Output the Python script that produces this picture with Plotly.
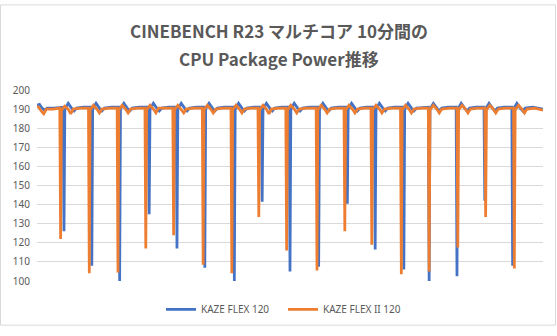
import plotly.graph_objects as go

# ---- data (seconds, W) ----
flex_t = [0, 3, 6, 9, 12, 20, 31,
          32, 33, 37, 41, 44, 47, 55, 64,
          65, 66, 70, 74, 77, 80, 88, 97,
          98, 99, 103, 107, 110, 113, 121, 132,
          133, 134, 138, 142, 145, 148, 156, 165,
          166, 167, 171, 175, 178, 181, 189, 198,
          199, 200, 204, 208, 211, 214, 222, 233,
          234, 235, 239, 243, 246, 249, 257, 266,
          267, 268, 272, 276, 279, 282, 290, 299,
          300, 301, 305, 309, 312, 315, 323, 333,
          334, 335, 339, 343, 346, 349, 357, 367,
          368, 369, 373, 377, 380, 383, 391, 400,
          401, 402, 406, 410, 413, 416, 424, 434,
          435, 436, 440, 444, 447, 450, 458, 464,
          465, 466, 470, 474, 477, 480, 488, 497,
          498, 499, 503, 507, 510, 513, 521, 530,
          531, 532, 536, 540, 543, 546, 554, 563,
          564, 565, 569, 573, 576, 579, 588, 600]
flex_w = [192, 192.5, 190.5, 189.5, 190.5, 190.5, 191,
          126, 190, 193, 190.5, 189, 190.5, 191, 191,
          108, 190, 193, 190.5, 189, 190.5, 191, 191,
          100, 190, 193, 190.5, 189, 190.5, 191, 191,
          135, 190, 193, 190.5, 189, 190.5, 191, 191,
          117, 190, 193, 190.5, 189, 190.5, 191, 191,
          107, 190, 193, 190.5, 189, 190.5, 191, 191,
          100, 190, 193, 190.5, 189, 190.5, 191, 191,
          141.5, 190, 193, 190.5, 189, 190.5, 191, 191,
          105, 190, 193, 190.5, 189, 190.5, 191, 191,
          107.5, 190, 193, 190.5, 189, 190.5, 191, 191,
          140.5, 190, 193, 190.5, 189, 190.5, 191, 191,
          116.5, 190, 193, 190.5, 189, 190.5, 191, 191,
          106, 190, 193, 190.5, 189, 190.5, 191, 191,
          100, 190, 193, 190.5, 189, 190.5, 191, 191,
          102.5, 190, 193, 190.5, 189, 190.5, 191, 191,
          142, 190, 193, 190.5, 189, 190.5, 191, 191,
          108, 190, 193, 190.5, 189, 190.5, 191, 190]

flex2_t = [0, 2, 5, 8, 11, 19, 27,
           28, 29, 33, 37, 40, 43, 51, 61,
           62, 63, 67, 71, 74, 77, 85, 95,
           96, 97, 101, 105, 108, 111, 119, 128,
           129, 130, 134, 138, 141, 144, 152, 161,
           162, 163, 167, 171, 174, 177, 186, 196,
           197, 198, 202, 206, 209, 212, 220, 230,
           231, 232, 236, 240, 243, 246, 254, 262,
           263, 264, 268, 272, 275, 278, 286, 295,
           296, 297, 301, 305, 308, 311, 320, 331,
           332, 333, 337, 341, 344, 347, 355, 364,
           365, 366, 370, 374, 377, 380, 388, 396,
           397, 398, 402, 406, 409, 412, 421, 431,
           432, 433, 437, 441, 444, 447, 455, 464,
           465, 466, 470, 474, 477, 480, 489, 498,
           499, 500, 504, 508, 511, 514, 522, 531,
           532, 533, 537, 541, 544, 547, 555, 565,
           566, 567, 571, 575, 578, 581, 590, 600]
flex2_w = [191.5, 191, 189, 187.5, 190, 190, 190.5,
           122, 189.5, 191.5, 190, 187.5, 190, 190.5, 190.5,
           104, 189.5, 192, 190, 188, 190, 190.5, 190.5,
           104.5, 189.5, 192, 190, 188, 190, 190.5, 190.5,
           117, 189.5, 192, 190, 188, 190.5, 190.5, 190.5,
           124, 189.5, 192, 190, 188, 190, 190.5, 190.5,
           108.5, 189.5, 192, 190, 188, 190, 190.5, 190.5,
           104, 189.5, 192, 190, 188, 190, 190.5, 190.5,
           133.5, 189.5, 192, 190, 187.5, 190, 190.5, 190.5,
           116, 189.5, 192, 190, 188, 190, 190.5, 190.5,
           105.5, 189.5, 192, 190, 188, 190, 190.5, 190.5,
           126, 189.5, 192, 190, 188, 190, 190.5, 190.5,
           119, 189.5, 192, 190, 188, 190, 190.5, 190.5,
           103.5, 189.5, 192, 190, 188, 190, 190.5, 190.5,
           105, 189.5, 192, 190, 188, 190, 190.5, 190.5,
           117.5, 189.5, 192, 190, 188, 190, 190.5, 190.5,
           133.5, 189.5, 192, 190, 188, 190, 190.5, 190.5,
           106.5, 189.5, 192, 190, 188, 190, 190.5, 189.5]

series_names = ["KAZE FLEX 120", "KAZE FLEX II 120"]
y_ticks = [100, 110, 120, 130, 140, 150, 160, 170, 180, 190, 200]
title_lines = ["CINEBENCH R23 マルチコア 10分間の", "CPU Package Power推移"]

W, H = 557, 336
L, R, T, B = 37, 14, 89.5, 46.7
PW, PH = W - L - R, H - T - B

fig = go.Figure()
fig.add_trace(go.Scatter(x=flex_t, y=flex_w, mode="lines", name=series_names[0],
                         line=dict(color="#4472C4", width=2.75)))
fig.add_trace(go.Scatter(x=flex2_t, y=flex2_w, mode="lines", name=series_names[1],
                         line=dict(color="#ED7D31", width=2.75)))

grey = "#595959"
fig.update_layout(
    width=W, height=H,
    margin=dict(l=L, r=R, t=T, b=B, pad=0),
    paper_bgcolor="white", plot_bgcolor="white",
    font=dict(family="Noto Sans, Noto Sans CJK JP", color=grey, size=10),
    showlegend=True,
    legend=dict(orientation="h", x=0.5 - 7 / PW, xanchor="center", y=(289.3 - 319) / PH,
                yanchor="middle", font=dict(size=10, color=grey),
                traceorder="normal", itemwidth=30, entrywidth=77,
                bgcolor="rgba(0,0,0,0)"),
    xaxis=dict(range=[0, 600], showgrid=False, zeroline=False, showticklabels=False,
               ticks="", showline=False, fixedrange=True),
    yaxis=dict(range=[100, 200], tickvals=y_ticks, showgrid=True, gridcolor="#D9D9D9",
               gridwidth=1, zeroline=False, showline=False, ticks="",
               ticklabelstandoff=6, tickfont=dict(size=10, color=grey)),
)

title_x = (W / 2 - L) / PW
for txt, py in zip(title_lines, [27, 57]):
    fig.add_annotation(text="<b>" + txt + "</b>", xref="paper", yref="paper",
                       x=title_x, y=(289.3 - py) / PH, xanchor="center", yanchor="middle",
                       showarrow=False,
                       font=dict(size=17, color=grey, family="Noto Sans CJK JP"))

fig.add_shape(type="rect", xref="paper", yref="paper",
              x0=-(L - 0.5) / PW, x1=1 + (R - 1.5) / PW,
              y0=-(B - 0.5) / PH, y1=1 + (T - 0.5) / PH,
              line=dict(color="#D9D9D9", width=1), layer="below")

fig.write_html("out.html")
